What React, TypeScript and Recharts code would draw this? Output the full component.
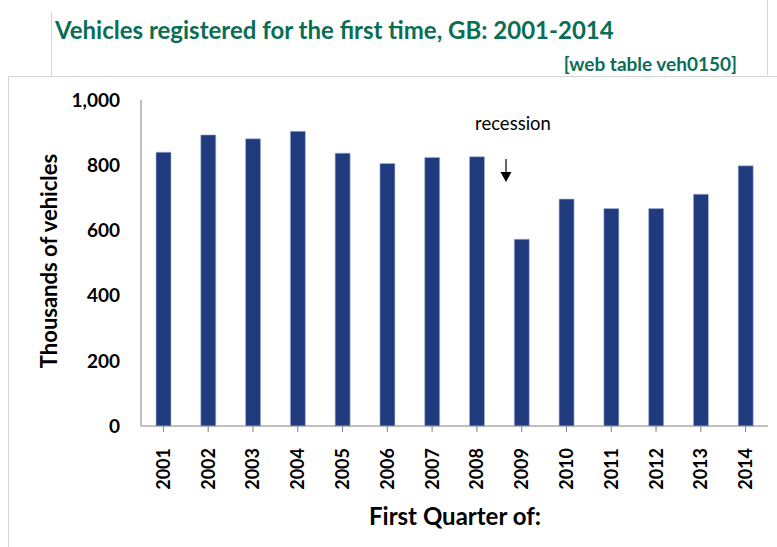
import React from 'react';
import { BarChart, Bar, XAxis, YAxis } from 'recharts';

const years = ['2001','2002','2003','2004','2005','2006','2007','2008','2009','2010','2011','2012','2013','2014'];
const registrations = [840, 893, 881, 904, 837, 805, 824, 826, 573, 696, 667, 667, 711, 798];
const yTicks = [0, 200, 400, 600, 800, 1000];

const data = years.map((y, i) => ({ year: y, value: registrations[i] }));

const FONT = 'Lato, "Open Sans", sans-serif';
const GREEN = '#0A6E55';

const XTick = (props: any) => {
  const { x, y, payload } = props;
  return (
    <g transform={`translate(${x},${y})`}>
      <text
        transform="rotate(-90)"
        x={-14}
        y={0}
        dy="0.36em"
        textAnchor="end"
        fontFamily={FONT}
        fontWeight={700}
        fontSize={18}
        fill="#000"
      >
        {payload.value}
      </text>
    </g>
  );
};

export default function App() {
  return (
    <div style={{ position: 'absolute', left: 0, top: 0, width: 777, height: 547, background: '#fff' }}>
      <BarChart
        width={777}
        height={547}
        data={data}
        margin={{ top: 100, right: 9, bottom: 21, left: 0 }}
        barSize={15}
      >
        <YAxis
          width={141}
          domain={[0, 1000]}
          ticks={yTicks}
          interval={0}
          tickLine={false}
          tickSize={0}
          tickMargin={21}
          axisLine={{ stroke: '#808080', strokeWidth: 1 }}
          tickFormatter={(v: number) => v.toLocaleString('en-US')}
          tick={{ fontFamily: FONT, fontWeight: 700, fontSize: 19, fill: '#000' }}
        />
        <XAxis
          dataKey="year"
          height={100}
          interval={0}
          tickSize={6}
          tickLine={{ stroke: '#808080' }}
          axisLine={{ stroke: '#808080', strokeWidth: 1 }}
          tick={<XTick />}
        />
        <Bar dataKey="value" fill="#1F3A7D" stroke="#A9B8DA" strokeWidth={0.6} isAnimationActive={false} />
      </BarChart>
      <svg
        width={777}
        height={547}
        style={{ position: 'absolute', left: 0, top: 0, pointerEvents: 'none' }}
      >
        <line x1={51.5} y1={12} x2={51.5} y2={76} stroke="#D4D4D4" />
        <line x1={767.5} y1={0} x2={767.5} y2={75} stroke="#D4D4D4" />
        <line x1={8.5} y1={76.5} x2={777} y2={76.5} stroke="#D4D4D4" />
        <line x1={8.5} y1={76.5} x2={8.5} y2={547} stroke="#D4D4D4" />
        <text x={55} y={39} fontFamily={FONT} fontWeight={700} fontSize={24} fill={GREEN}>
          Vehicles registered for the first time, GB: 2001-2014
        </text>
        <text x={737} y={71} textAnchor="end" fontFamily={FONT} fontWeight={700} fontSize={19} fill={GREEN}>
          [web table veh0150]
        </text>
        <text x={513} y={130} textAnchor="middle" fontFamily={FONT} fontSize={18.5} fill="#000">
          recession
        </text>
        <line x1={506} y1={159} x2={506} y2={174} stroke="#000" strokeWidth={1.2} />
        <polygon points="500.5,172 511.5,172 506,182" fill="#000" />
        <text
          transform="translate(57,261) rotate(-90)"
          textAnchor="middle"
          fontFamily={FONT}
          fontWeight={700}
          fontSize={22}
          fill="#000"
        >
          Thousands of vehicles
        </text>
        <text x={455} y={525} textAnchor="middle" fontFamily={FONT} fontWeight={700} fontSize={24} fill="#000">
          First Quarter of:
        </text>
      </svg>
    </div>
  );
}
